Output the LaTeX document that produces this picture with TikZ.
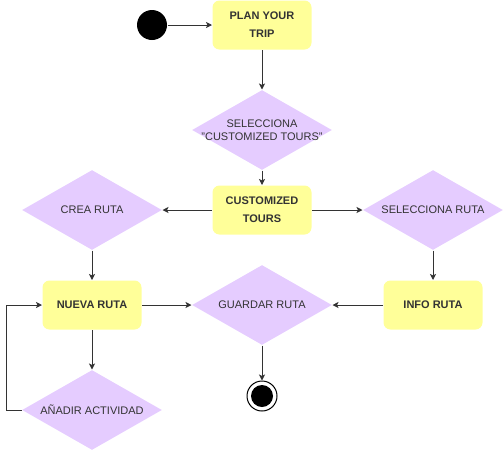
\documentclass[tikz,border=0pt]{standalone}
\usepackage{fontspec}
\setmainfont{Liberation Sans}
\usetikzlibrary{shapes.geometric,arrows.meta}
\definecolor{boxyellow}{HTML}{FFFF99}
\definecolor{decpurple}{HTML}{E5CCFF}
\definecolor{inkgray}{HTML}{333333}
\begin{document}
\begin{tikzpicture}[x=1pt,y=-1pt,line width=1pt]
              \tikzstyle{every node} = [text=inkgray, align=center, font=\fontsize{11}{13.5}\selectfont];
              \tikzstyle{act} = [rectangle, rounded corners=7pt, fill=boxyellow, minimum width=99pt, minimum height=49pt, inner sep=2pt, font=\fontsize{11}{18}\selectfont\bfseries];
              \tikzstyle{dec} = [diamond, fill=decpurple, minimum width=140pt, minimum height=80pt, aspect=1.75, inner xsep=-30pt, inner ysep=0pt];
              \tikzstyle{flow} = [draw=inkgray, -{Stealth[length=6pt,width=6pt,inset=1.5pt]}];
              \useasboundingbox (0,0) rectangle (503,451);
              % start and end
              \node[circle, fill=black, minimum size=30pt, inner sep=0pt] (start) at (152,25) {};
              \node[circle, draw=black, fill=white, minimum size=30pt, inner sep=0pt] (fin) at (262,396) {};
              \node[circle, fill=black, minimum size=22pt, inner sep=0pt] (fincore) at (fin) {};
              % activities
              \node[act] (plan) at (262,25) {PLAN YOUR\\TRIP};
              \node[act] (tours) at (262,210) {CUSTOMIZED\\TOURS};
              \node[act] (nueva) at (92,305) {NUEVA RUTA};
              \node[act] (info) at (433,305) {INFO RUTA};
              % decisions
              \node[dec] (sel) at (262,130) {SELECCIONA\\"CUSTOMIZED TOURS"};
              \node[dec] (crea) at (92,210) {CREA RUTA};
              \node[dec] (selr) at (433,210) {SELECCIONA RUTA};
              \node[dec] (guardar) at (262,305) {GUARDAR RUTA};
              \node[dec] (anadir) at (92,410) {AÑADIR ACTIVIDAD};
              % connectors
              \foreach \a/\b in {start/plan,plan/sel,sel/tours,tours/crea,tours/selr,crea/nueva,selr/info,nueva/guardar,info/guardar,guardar/fin,nueva/anadir}{
                \draw[flow] (\a) -- (\b);
              }
              \draw[flow] (anadir.west) -- ++(-15,0) |- (nueva.west);
            \end{tikzpicture}
\end{document}
